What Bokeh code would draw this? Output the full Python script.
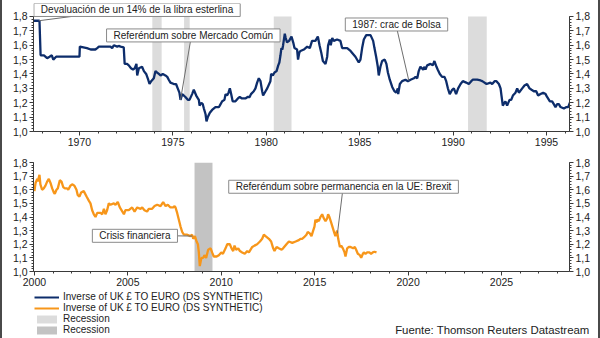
import numpy as np
from bokeh.plotting import figure
from bokeh.models import (Range1d, LinearAxis, FixedTicker, CustomJSTickFormatter,
                          Label, BoxAnnotation, Legend, LegendItem, ColumnDataSource)
from bokeh.layouts import column
from bokeh.embed import file_html
from bokeh.resources import INLINE

# ---------------- data ----------------
years_top = [1967.55, 1967.86, 1967.92, 1968.1, 1968.27, 1968.4, 1968.52, 1968.6, 1968.75, 1970.0,
             1970.02, 1970.4, 1970.6, 1970.85, 1970.95, 1971.04, 1971.66, 1971.75, 1971.84, 1972.02,
             1972.1, 1972.2, 1972.37, 1972.42, 1972.55, 1972.64, 1972.76, 1972.87, 1972.96, 1973.05,
             1973.09, 1973.18, 1973.35, 1973.45, 1973.57, 1973.68, 1973.75, 1973.84, 1973.98, 1974.07,
             1974.16, 1974.25, 1974.34, 1974.46, 1974.6, 1974.7, 1974.78, 1974.87, 1975.05, 1975.17,
             1975.26, 1975.35, 1975.41, 1975.5, 1975.67, 1975.8, 1975.89, 1976.03, 1976.12, 1976.25,
             1976.34, 1976.39, 1976.43, 1976.52, 1976.6, 1976.66, 1976.75, 1976.8, 1976.87, 1976.98,
             1977.1, 1977.28, 1977.46, 1977.51, 1977.64, 1977.76, 1977.82, 1977.9, 1977.98, 1978.05,
             1978.12, 1978.2, 1978.35, 1978.48, 1978.58, 1978.7, 1978.88, 1979.0, 1979.11, 1979.18,
             1979.33, 1979.42, 1979.51, 1979.6, 1979.69, 1979.78, 1979.83, 1979.96, 1980.05, 1980.22,
             1980.26, 1980.35, 1980.44, 1980.55, 1980.64, 1980.7, 1980.76, 1980.81, 1980.86, 1980.9,
             1980.99, 1981.04, 1981.11, 1981.22, 1981.35, 1981.44, 1981.51, 1981.65, 1981.7, 1981.77,
             1981.83, 1982.01, 1982.19, 1982.33, 1982.45, 1982.63, 1982.76, 1982.85, 1982.94, 1983.03,
             1983.17, 1983.26, 1983.31, 1983.4, 1983.45, 1983.53, 1983.61, 1983.79, 1983.97, 1984.06,
             1984.33, 1984.51, 1984.77, 1984.95, 1985.04, 1985.13, 1985.22, 1985.35, 1985.58, 1985.72,
             1985.79, 1985.88, 1985.97, 1986.02, 1986.11, 1986.2, 1986.34, 1986.43, 1986.51, 1986.61,
             1986.74, 1986.86, 1986.95, 1987.04, 1987.06, 1987.15, 1987.27, 1987.45, 1987.58, 1987.72,
             1987.9, 1987.99, 1988.08, 1988.16, 1988.25, 1988.4, 1988.47, 1988.52, 1988.61, 1988.79,
             1988.91, 1989.0, 1989.11, 1989.18, 1989.29, 1989.41, 1989.54, 1989.63, 1989.72, 1989.82,
             1989.95, 1990.04, 1990.16, 1990.27, 1990.4, 1990.52, 1990.7, 1990.84, 1990.97, 1991.06,
             1991.29, 1991.47, 1991.56, 1991.79, 1992.0, 1992.09, 1992.22, 1992.32, 1992.45, 1992.54,
             1992.59, 1992.66, 1992.75, 1992.8, 1992.89, 1993.02, 1993.11, 1993.2, 1993.34, 1993.43,
             1993.52, 1993.7, 1993.82, 1993.96, 1994.09, 1994.2, 1994.32, 1994.45, 1994.55, 1994.68,
             1994.82, 1994.95, 1995.03, 1995.18, 1995.3, 1995.39, 1995.48, 1995.57, 1995.66, 1995.75,
             1995.93, 1996.07, 1996.16, 1996.25]
fx_top = [1.77, 1.77, 1.53, 1.53, 1.51, 1.52, 1.53, 1.50, 1.52, 1.52,
          1.59, 1.58, 1.57, 1.57, 1.58, 1.59, 1.59, 1.58, 1.60, 1.59,
          1.595, 1.59, 1.585, 1.47, 1.47, 1.46, 1.44, 1.43, 1.44, 1.47,
          1.39, 1.44, 1.45, 1.42, 1.40, 1.36, 1.33, 1.35, 1.37, 1.42,
          1.41, 1.40, 1.39, 1.40, 1.39, 1.38, 1.36, 1.34, 1.33, 1.33,
          1.30, 1.27, 1.22, 1.26, 1.24, 1.22, 1.22, 1.26, 1.29, 1.25,
          1.23, 1.22, 1.18, 1.20, 1.19, 1.16, 1.12, 1.07, 1.10, 1.13,
          1.15, 1.17, 1.17, 1.18, 1.21, 1.22, 1.26, 1.25, 1.27, 1.30,
          1.26, 1.21, 1.21, 1.23, 1.24, 1.23, 1.23, 1.24, 1.24, 1.26,
          1.28, 1.30, 1.34, 1.37, 1.35, 1.28, 1.25, 1.28, 1.30, 1.35,
          1.40, 1.39, 1.41, 1.42, 1.46, 1.48, 1.53, 1.58, 1.57, 1.60,
          1.68, 1.65, 1.62, 1.63, 1.66, 1.62, 1.58, 1.57, 1.50, 1.55,
          1.56, 1.57, 1.59, 1.58, 1.63, 1.63, 1.66, 1.60, 1.55, 1.49,
          1.47, 1.52, 1.60, 1.64, 1.60, 1.65, 1.63, 1.64, 1.63, 1.58,
          1.58, 1.56, 1.52, 1.48, 1.50, 1.58, 1.64, 1.67, 1.67, 1.63,
          1.58, 1.52, 1.45, 1.39, 1.45, 1.49, 1.50, 1.47, 1.41, 1.36,
          1.31, 1.28, 1.27, 1.30, 1.26, 1.33, 1.35, 1.36, 1.35, 1.36,
          1.37, 1.38, 1.37, 1.42, 1.45, 1.43, 1.45, 1.43, 1.46, 1.47,
          1.46, 1.49, 1.45, 1.43, 1.40, 1.38, 1.38, 1.35, 1.30, 1.26,
          1.29, 1.30, 1.26, 1.30, 1.33, 1.35, 1.34, 1.33, 1.35, 1.36,
          1.36, 1.355, 1.35, 1.33, 1.34, 1.33, 1.35, 1.35, 1.33, 1.30,
          1.25, 1.18, 1.20, 1.21, 1.18, 1.22, 1.22, 1.25, 1.27, 1.30,
          1.27, 1.30, 1.32, 1.33, 1.30, 1.29, 1.28, 1.28, 1.25, 1.26,
          1.27, 1.26, 1.24, 1.21, 1.21, 1.19, 1.17, 1.19, 1.19, 1.17,
          1.16, 1.17, 1.17, 1.20]

years_bot = [2000.0, 2000.06, 2000.15, 2000.18, 2000.27, 2000.32, 2000.41, 2000.5, 2000.59, 2000.68,
             2000.77, 2000.86, 2000.95, 2001.04, 2001.09, 2001.18, 2001.25, 2001.36, 2001.45, 2001.54,
             2001.63, 2001.75, 2001.81, 2001.93, 2002.02, 2002.14, 2002.25, 2002.32, 2002.41, 2002.5,
             2002.64, 2002.79, 2002.91, 2003.0, 2003.09, 2003.18, 2003.27, 2003.36, 2003.54, 2003.63,
             2003.72, 2003.8, 2003.89, 2003.98, 2004.07, 2004.25, 2004.34, 2004.46, 2004.57, 2004.66,
             2004.79, 2004.87, 2005.05, 2005.23, 2005.36, 2005.5, 2005.68, 2005.77, 2005.89, 2006.03,
             2006.12, 2006.3, 2006.43, 2006.57, 2006.75, 2006.89, 2007.02, 2007.14, 2007.28, 2007.43,
             2007.5, 2007.55, 2007.64, 2007.73, 2007.82, 2007.91, 2008.0, 2008.18, 2008.35, 2008.44,
             2008.5, 2008.59, 2008.68, 2008.75, 2008.8, 2008.85, 2008.94, 2009.03, 2009.1, 2009.19,
             2009.3, 2009.43, 2009.51, 2009.6, 2009.75, 2009.87, 2010.0, 2010.09, 2010.23, 2010.32,
             2010.46, 2010.55, 2010.64, 2010.71, 2010.8, 2010.91, 2011.0, 2011.12, 2011.26, 2011.39,
             2011.48, 2011.57, 2011.66, 2011.78, 2011.92, 2012.07, 2012.19, 2012.28, 2012.37, 2012.55,
             2012.67, 2012.78, 2012.85, 2012.96, 2013.08, 2013.23, 2013.31, 2013.49, 2013.62, 2013.8,
             2013.98, 2014.15, 2014.24, 2014.33, 2014.42, 2014.56, 2014.63, 2014.74, 2014.83, 2014.92,
             2014.99, 2015.04, 2015.1, 2015.13, 2015.22, 2015.31, 2015.4, 2015.49, 2015.58, 2015.67,
             2015.72, 2015.79, 2015.88, 2015.97, 2016.06, 2016.11, 2016.2, 2016.26, 2016.35, 2016.42,
             2016.51, 2016.6, 2016.65, 2016.74, 2016.83, 2016.92, 2017.06, 2017.15, 2017.22, 2017.31,
             2017.42, 2017.49, 2017.58, 2017.63, 2017.72, 2017.81, 2017.93, 2018.02, 2018.11, 2018.2,
             2018.31]
fx_bot = [1.59, 1.65, 1.68, 1.66, 1.71, 1.64, 1.60, 1.61, 1.63, 1.66,
          1.68, 1.65, 1.61, 1.58, 1.57, 1.60, 1.61, 1.67, 1.66, 1.62,
          1.61, 1.61, 1.60, 1.63, 1.64, 1.63, 1.60, 1.56, 1.55, 1.58,
          1.59, 1.55, 1.52, 1.50, 1.45, 1.42, 1.40, 1.43, 1.43, 1.42,
          1.46, 1.42, 1.45, 1.50, 1.49, 1.50, 1.49, 1.51, 1.47, 1.45,
          1.42, 1.45, 1.45, 1.47, 1.44, 1.47, 1.46, 1.47, 1.45, 1.44,
          1.46, 1.46, 1.48, 1.49, 1.48, 1.51, 1.48, 1.49, 1.47, 1.47,
          1.48, 1.47, 1.43, 1.38, 1.33, 1.29, 1.27, 1.27, 1.26, 1.27,
          1.24, 1.26, 1.22, 1.20, 1.14, 1.04, 1.10, 1.10, 1.12, 1.10,
          1.16, 1.17, 1.14, 1.11, 1.11, 1.12, 1.14, 1.13, 1.17, 1.20,
          1.20, 1.17, 1.15, 1.19, 1.16, 1.17, 1.15, 1.14, 1.13, 1.15,
          1.14, 1.16, 1.18, 1.19, 1.20, 1.22, 1.24, 1.27, 1.26, 1.24,
          1.22, 1.17, 1.15, 1.18, 1.17, 1.16, 1.17, 1.20, 1.22, 1.21,
          1.22, 1.23, 1.24, 1.24, 1.25, 1.27, 1.29, 1.28, 1.26, 1.30,
          1.33, 1.38, 1.36, 1.38, 1.37, 1.40, 1.42, 1.39, 1.37, 1.39,
          1.42, 1.40, 1.36, 1.32, 1.28, 1.26, 1.30, 1.24, 1.18, 1.19,
          1.17, 1.14, 1.11, 1.17, 1.18, 1.18, 1.17, 1.18, 1.16, 1.13,
          1.12, 1.10, 1.13, 1.14, 1.13, 1.14, 1.14, 1.13, 1.14, 1.145,
          1.14]

rec_top_start = [1973.9, 1975.6, 1980.4, 1990.8]
rec_top_end = [1974.4, 1975.9, 1981.35, 1991.8]
rec_bot_start = [2008.57]
rec_bot_end = [2009.53]

y_ticks = [1.0, 1.1, 1.2, 1.3, 1.4, 1.5, 1.6, 1.7, 1.8]
x_ticks_top = [1970, 1975, 1980, 1985, 1990, 1995]
x_ticks_bot = [2000, 2005, 2010, 2015, 2020, 2025]

legend_labels = ["Inverse of UK £ TO EURO (DS SYNTHETIC)",
                 "Inverse of UK £ TO EURO (DS SYNTHETIC)",
                 "Recession", "Recession"]
source_text = "Fuente: Thomson Reuters Datastream"

# annotations: text, box left/centre (x, y), leader start on box (x, y), event date on the series
ann_top = [
    ("Devaluación de un 14% de la libra esterlina", 1967.56, 1.845, 1969.95, 1.806, 1967.82),
    ("Referéndum sobre Mercado Común", 1971.45, 1.668, 1975.94, 1.626, 1975.41),
    ("1987: crac de Bolsa", 1984.23, 1.744, 1987.01, 1.703, 1987.63),
]
ann_bot = [
    ("Crisis financiera", 2003.10, 1.262, 2007.44, 1.262, 2008.46),
    ("Referéndum sobre permanencia en la UE: Brexit", 2010.40, 1.622, 2016.49, 1.582, 2016.22),
]

# ---------------- style ----------------
FONT = "Liberation Sans"
NAVY = "#0d2d6b"
ORANGE = "#f7961a"
REC_LIGHT = "#dcdcdc"
REC_DARK = "#c3c3c3"
AXIS_C = "#3a3a3a"
TEXT_C = "#222222"
EDGE = 2   # width of the dark frame on the left/right edge of the picture
W = 600 - 2 * EDGE


def style_axis(ax, ticker, fmt):
    ax.ticker = ticker
    ax.formatter = fmt
    ax.axis_line_color = AXIS_C
    ax.major_tick_line_color = AXIS_C
    ax.minor_tick_line_color = AXIS_C
    ax.major_tick_in = 0
    ax.major_tick_out = 4
    ax.minor_tick_in = 0
    ax.minor_tick_out = 2
    ax.major_label_standoff = 2
    ax.major_label_text_font = FONT
    ax.major_label_text_font_size = "10.5px"
    ax.major_label_text_color = TEXT_C


def make_panel(xr, ytop, height, top, bottom, years, vals, color, rs, re, xt, color_rec, anns):
    p = figure(width=W, height=height, x_range=Range1d(*xr), y_range=Range1d(1.0, ytop),
               output_backend="svg", toolbar_location=None,
               min_border_left=33 - EDGE, min_border_right=31 - EDGE,
               min_border_top=top, min_border_bottom=bottom)
    p.grid.visible = False
    p.outline_line_color = None
    for s, e in zip(rs, re):
        p.add_layout(BoxAnnotation(left=s, right=e, bottom=1.0, top=1.8, fill_color=color_rec,
                                   fill_alpha=1.0, line_color=None, level="underlay"))
    p.line(years, vals, line_color=color, line_width=2.3)
    yfmt = CustomJSTickFormatter(code="return tick.toFixed(1).replace('.', ',');")
    xfmt = CustomJSTickFormatter(code="return tick.toFixed(0);")
    yminor = [round(1.0 + 0.02 * i, 2) for i in range(41)]
    style_axis(p.yaxis[0], FixedTicker(ticks=y_ticks, minor_ticks=yminor), yfmt)
    p.yaxis[0].bounds = (1.0, 1.8)
    right = LinearAxis(bounds=(1.0, 1.8))
    style_axis(right, FixedTicker(ticks=y_ticks, minor_ticks=yminor), yfmt)
    p.add_layout(right, "right")
    xminor = list(range(int(np.ceil(xr[0])), int(np.floor(xr[1])) + 1))
    style_axis(p.xaxis[0], FixedTicker(ticks=xt, minor_ticks=xminor), xfmt)
    for text, lx, ly, bx, by, ev in anns:
        ey = float(np.interp(ev, years, vals))
        p.segment(x0=[bx], y0=[by], x1=[ev], y1=[ey], line_color="#6e6e6e", line_width=1)
        p.add_layout(Label(x=lx, y=ly, text=text, text_font=FONT, text_font_size="10px",
                           text_color=TEXT_C, text_align="left", text_baseline="middle",
                           border_line_color="#8a8a8a", border_line_width=1,
                           background_fill_color="white",
                           padding=dict(left=7, right=7, top=1, bottom=1)))
    return p


p1 = make_panel((1967.54, 1996.23), 1.89, 150, 3, 19, years_top, fx_top, NAVY,
                rec_top_start, rec_top_end, x_ticks_top, REC_LIGHT, ann_top)
p2 = make_panel((1999.95, 2028.64), 1.8, 138, 12, 16, years_bot, fx_bot, ORANGE,
                rec_bot_start, rec_bot_end, x_ticks_bot, REC_DARK, ann_bot)

# legend / source panel
p3 = figure(width=W, height=50, x_range=Range1d(0, 1), y_range=Range1d(0, 1),
            output_backend="svg", toolbar_location=None, x_axis_type=None, y_axis_type=None,
            min_border=0, frame_align=False)
p3.grid.visible = False
p3.outline_line_color = None
ls = ColumnDataSource(data=dict(x=[np.nan], y=[np.nan]))
qs = ColumnDataSource(data=dict(l=[np.nan], r=[np.nan], t=[np.nan], b=[np.nan]))
r1 = p3.line("x", "y", source=ls, line_color=NAVY, line_width=2)
r2 = p3.line("x", "y", source=ls, line_color=ORANGE, line_width=2)
r3 = p3.quad(left="l", right="r", top="t", bottom="b", source=qs, fill_color=REC_LIGHT, line_color=None)
r4 = p3.quad(left="l", right="r", top="t", bottom="b", source=qs, fill_color=REC_DARK, line_color=None)
leg = Legend(items=[LegendItem(label=lab, renderers=[r]) for lab, r in zip(legend_labels, [r1, r2, r3, r4])],
             location=(34 - EDGE, 3), orientation="vertical", label_text_font=FONT,
             label_text_font_size="10px", label_text_color=TEXT_C, glyph_width=25, glyph_height=10,
             label_height=10, spacing=0, padding=0, margin=0, border_line_alpha=0,
             background_fill_alpha=0, label_standoff=4)
p3.add_layout(leg)
p3.add_layout(Label(x=589 - EDGE, y=9, x_units="screen", y_units="screen", text=source_text,
                    text_font=FONT, text_font_size="11.4px", text_color=TEXT_C,
                    text_align="right", text_baseline="middle"))

layout = column(p1, p2, p3, spacing=0,
                styles={"border-left": f"{EDGE}px solid #4a4a4a",
                        "border-right": f"{EDGE}px solid #4a4a4a"})
open("out.html", "w").write(file_html(layout, INLINE))
